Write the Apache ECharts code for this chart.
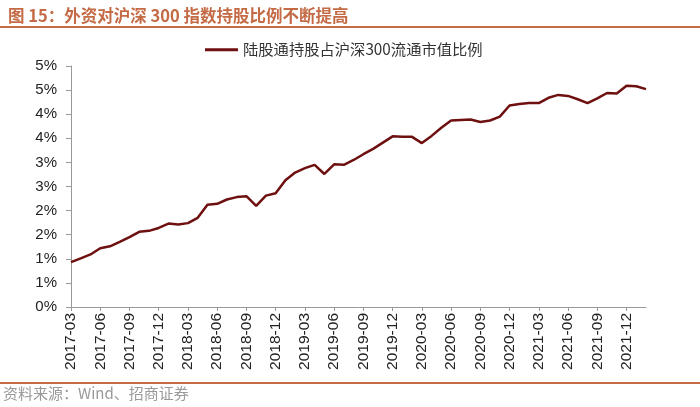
<!DOCTYPE html>
<html>
<head>
<meta charset="utf-8">
<script src="https://cdn.jsdelivr.net/npm/echarts@6/dist/echarts.min.js"></script>
<style>html,body{margin:0;padding:0;background:#fff}#c{width:700px;height:407px}</style>
</head>
<body>
<div id="c"></div>
<script>
var seriesName = '陆股通持股占沪深300流通市值比例';
var months = [
 '2017-03','2017-04','2017-05','2017-06','2017-07','2017-08','2017-09','2017-10','2017-11','2017-12',
 '2018-01','2018-02','2018-03','2018-04','2018-05','2018-06','2018-07','2018-08','2018-09','2018-10',
 '2018-11','2018-12','2019-01','2019-02','2019-03','2019-04','2019-05','2019-06','2019-07','2019-08',
 '2019-09','2019-10','2019-11','2019-12','2020-01','2020-02','2020-03','2020-04','2020-05','2020-06',
 '2020-07','2020-08','2020-09','2020-10','2020-11','2020-12','2021-01','2021-02','2021-03','2021-04',
 '2021-05','2021-06','2021-07','2021-08','2021-09','2021-10','2021-11','2021-12','2022-01','2022-02'
];
var values = [
 0.93,1.01,1.09,1.22,1.26,1.35,1.45,1.56,1.58,1.64,
 1.73,1.71,1.74,1.85,2.12,2.14,2.23,2.28,2.30,2.10,
 2.31,2.36,2.63,2.79,2.88,2.95,2.76,2.96,2.95,3.05,
 3.17,3.28,3.41,3.54,3.53,3.53,3.40,3.55,3.72,3.87,
 3.88,3.89,3.84,3.87,3.95,4.18,4.21,4.23,4.23,4.34,
 4.40,4.38,4.31,4.23,4.33,4.44,4.43,4.59,4.58,4.52
];
var yTickLabels = ['0%','1%','1%','2%','2%','3%','3%','4%','4%','5%','5%'];

var chart = echarts.init(document.getElementById('c'));
var accent = '#C46A45';
chart.setOption({
  backgroundColor: '#fff',
  animation: false,
  title: {
    text: '图 15：外资对沪深 300 指数持股比例不断提高',
    left: 3, top: 2,
    textStyle: { color: accent, fontSize: 16.5, fontWeight: 'bold', fontFamily: 'Noto Sans CJK SC' }
  },
  graphic: [
    { type: 'line', shape: { x1: 0, y1: 27, x2: 700, y2: 27 }, style: { stroke: accent, lineWidth: 2 } },
    { type: 'line', shape: { x1: 0, y1: 383, x2: 700, y2: 383 }, style: { stroke: accent, lineWidth: 2 } },
    { type: 'text', left: 3, top: 386, style: { text: '资料来源：Wind、招商证券', fill: '#999', fontSize: 15, fontFamily: 'Noto Sans CJK SC' } }
  ],
  legend: {
    top: 42, left: 205, padding: 0,
    itemWidth: 33, itemHeight: 3, itemGap: 4,
    icon: 'rect',
    textStyle: { fontSize: 15.3, color: '#333', fontFamily: 'Noto Sans CJK SC' },
    data: [seriesName]
  },
  grid: { left: 71, right: 54, top: 66, bottom: 100, containLabel: false },
  xAxis: {
    type: 'category',
    data: months,
    boundaryGap: false,
    axisLine: { lineStyle: { color: '#999', width: 1 } },
    axisTick: { interval: 2, length: 4, lineStyle: { color: '#999' } },
    axisLabel: { interval: 2, rotate: 90, color: '#222', fontSize: 15.5, margin: 6, fontFamily: 'Liberation Sans' },
    splitLine: { show: false }
  },
  yAxis: {
    type: 'value',
    min: 0, max: 5, interval: 0.5,
    axisLine: { show: true, lineStyle: { color: '#999', width: 1 } },
    axisTick: { show: true, length: 5, lineStyle: { color: '#999' } },
    axisLabel: {
      color: '#222', fontSize: 15, margin: 14, fontFamily: 'Liberation Sans',
      formatter: function (v) { return yTickLabels[Math.round(v / 0.5)]; }
    },
    splitLine: { show: false }
  },
  series: [{
    name: seriesName,
    type: 'line',
    data: values,
    symbol: 'none',
    lineStyle: { color: '#6E1010', width: 2.5 },
    itemStyle: { color: '#6E1010' }
  }]
});
</script>
</body>
</html>
